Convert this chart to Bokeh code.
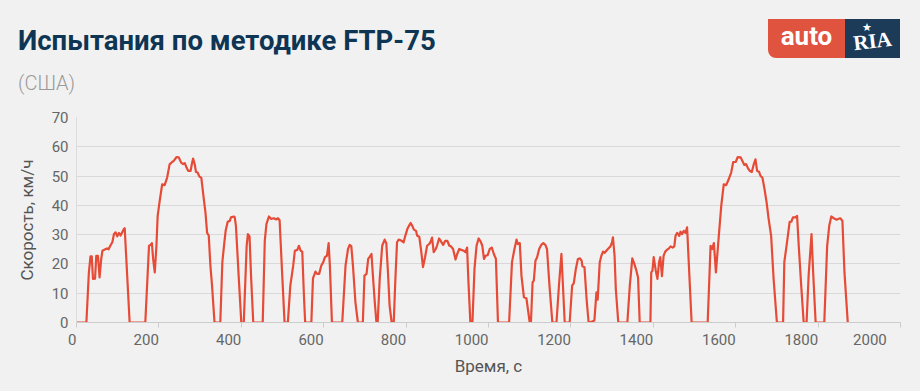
from bokeh.plotting import figure
from bokeh.layouts import column
from bokeh.models import Range1d, FixedTicker, Div
from bokeh.embed import file_html
from bokeh.resources import INLINE

# ---- data ----
phase1_t = [0, 24, 30, 34, 37, 40, 45, 48, 52, 56, 60, 63, 70, 74, 78, 82, 87, 91, 95, 99, 103, 107, 111, 115, 117,
            129, 167, 176, 180, 183, 186, 190, 194, 197, 202, 208, 214, 220, 226, 232, 236, 243, 248, 254, 259, 263,
            267, 271, 277, 280, 283, 287, 290, 294, 298, 303, 309, 313, 317, 321, 325, 329, 335, 349, 354, 358, 362,
            367, 372, 375, 382, 384, 387, 394, 400, 406, 413, 416, 420, 424, 429, 452, 457, 461, 467, 472, 479, 485,
            489, 493, 499, 505]
phase1_v = [0, 0, 17, 22.6, 22.6, 14.9, 15, 22.8, 22.8, 15.4, 21.7, 24.5, 25, 25.3, 25, 26.2, 27.4, 30.2, 30.8, 29.4,
            30.6, 29.7, 30.8, 31.9, 32.2, 0, 0, 26.2, 26.5, 27.1, 21.7, 17.1, 26.2, 36.4, 41.6, 47.2, 46.9, 49.5, 54,
            54.8, 55.2, 56.5, 56.4, 54.6, 54.1, 54.4, 52.9, 51.8, 51.8, 54.1, 56, 54, 51.4, 51.2, 49.9, 49.4, 42.1,
            37.6, 30.6, 29.7, 19.4, 12.6, 0, 0, 20.6, 26.2, 31.3, 34.4, 34.7, 35.9, 36.2, 36, 33, 14.9, 0, 0, 26.2,
            30.2, 29.4, 14.9, 0, 0, 27.9, 33.6, 36.2, 35.4, 35.6, 35.2, 35.6, 34.9, 17.1, 0]

phase2_t = [513, 519, 526, 530, 536, 540, 544, 548, 552, 555, 570, 574, 580, 584, 589, 594, 599, 603, 608, 612, 615,
            620, 645, 653, 659, 663, 667, 671, 677, 683, 695, 699, 704, 708, 712, 716, 720, 724, 728, 731, 736, 742,
            748, 752, 756, 760, 765, 770, 774, 778, 782, 788, 794, 798, 803, 807, 811, 815, 819, 824, 827, 832, 837,
            841, 846, 851, 856, 859, 863, 867, 872, 875, 880, 885, 890, 895, 900, 905, 909, 914, 920, 924, 929, 934,
            940, 944, 948, 951, 956, 961, 966, 971, 976, 981, 985, 989, 993, 998, 1003, 1008, 1013, 1018, 1023, 1050,
            1057, 1063, 1068, 1071, 1076, 1080, 1086, 1092, 1100, 1103, 1107, 1110, 1114, 1118, 1123, 1128, 1133,
            1138, 1142, 1148, 1155, 1165, 1171, 1177, 1185, 1197, 1203, 1207, 1212, 1217, 1222, 1226, 1228, 1233,
            1238, 1243, 1249, 1257, 1262, 1265, 1270, 1274, 1278, 1282, 1286, 1291, 1296, 1300, 1302, 1306, 1309,
            1315, 1337, 1343, 1349, 1354, 1359, 1363, 1367]
phase2_v = [0, 12.6, 19.4, 24.5, 24.8, 26.2, 24.5, 24.2, 9.2, 0, 0, 15.1, 17.4, 16.6, 16.6, 19.4, 20.6, 22.3, 22.8,
            27.1, 19.4, 0, 0, 19.4, 25.1, 26.5, 26.1, 19.4, 6.9, 0, 0, 16, 16.6, 21.7, 22.5, 23.4, 14.9, 6.9, 0, 0,
            14.9, 26.2, 28.3, 27, 17.1, 5.7, 0, 0, 14.9, 27.4, 28.3, 28, 27.4, 29.6, 31.9, 33, 34, 33, 31.7, 31.3,
            29.6, 29.3, 24, 18.9, 22.3, 26.2, 26.8, 27.4, 29, 24, 25.1, 26.2, 28.7, 27.6, 26.5, 27.9, 27.9, 26.2, 26,
            25.1, 21.5, 23.4, 25.1, 24.8, 24.5, 24, 25.6, 14.9, 0, 0, 18.3, 26.2, 28.7, 27.6, 26.2, 21.7, 22.8, 23,
            25.1, 25.6, 23.4, 21.7, 0, 0, 20.6, 25.1, 28.3, 26.8, 27.1, 16, 8.6, 8.3, 0, 0, 13.7, 14.3, 21.1, 22.3,
            25.1, 26.5, 27.1, 26.5, 25.1, 12.6, 0, 0, 12.6, 23.4, 0, 0, 12.6, 13.4, 18.3, 21.7, 21.9, 21.1, 19.2,
            18.9, 8.1, 0, 0.2, 0.7, 10.3, 7.8, 20.6, 22.8, 24.2, 23.8, 24.5, 25.3, 26, 27.4, 29.1, 22.8, 11.5, 0, 0,
            12.6, 21.9, 20, 17.7, 15.4, 0]

phase3_t = [1393, 1395, 1398, 1401, 1406, 1410, 1414, 1417, 1421, 1425, 1429, 1434, 1438, 1442, 1447, 1451, 1454,
            1458, 1463, 1466, 1470, 1474, 1478, 1482, 1493, 1532, 1539, 1543, 1547, 1552, 1559, 1565, 1571, 1577,
            1583, 1589, 1594, 1600, 1605, 1612, 1616, 1621, 1625, 1629, 1634, 1639, 1644, 1648, 1652, 1657, 1660,
            1665, 1670, 1675, 1680, 1686, 1692, 1700, 1715, 1718, 1725, 1731, 1735, 1739, 1745, 1749, 1753, 1759,
            1765, 1772, 1777, 1784, 1788, 1794, 1815, 1822, 1827, 1832, 1838, 1845, 1850, 1854, 1859, 1864, 1872]
phase3_v = [0, 17.1, 17.7, 22.3, 17.7, 14.9, 20.6, 22.3, 15.8, 22.8, 24.2, 24.9, 25.3, 26, 25.6, 26, 29.6, 30.6,
            29.6, 31, 30.2, 31.3, 30.6, 32.5, 0, 0, 26.2, 25.1, 27.1, 17.1, 29.6, 39.9, 47.2, 46.9, 48.9, 51.2, 54.8,
            54.8, 56.5, 56.4, 55.2, 53.8, 54.1, 52.9, 51.8, 51.4, 54.1, 55.7, 51.8, 51.4, 50.1, 49.4, 45.5, 41, 35.3,
            29.6, 14.9, 0, 0, 20.6, 27.9, 34.4, 34.4, 35.9, 35.9, 36.4, 26.2, 12.6, 0, 0, 16, 30.2, 17.1, 0, 0, 26.2,
            33, 36.2, 35.6, 35.1, 35.4, 35.6, 34.7, 17.1, 0]

x_ticks = [0, 200, 400, 600, 800, 1000, 1200, 1400, 1600, 1800, 2000]
y_ticks = [0, 10, 20, 30, 40, 50, 60, 70]

title_text = "Испытания по методике FTP-75"
subtitle_text = "(США)"
x_title = "Время, с"
y_title = "Скорость, км/ч"

time_s = phase1_t + phase2_t + phase3_t
speed = phase1_v + phase2_v + phase3_v

BG = "#f1f1f1"
FONT = "Roboto"
W = 920
HEAD_H = 108
MAIN_H = 283

# ---------------- header (title, subtitle, logo) ----------------
header_html = f"""
<div style="position:relative;width:{W}px;height:{HEAD_H}px;background:{BG};font-family:Roboto,sans-serif;overflow:hidden;">
  <div style="position:absolute;left:18px;top:27px;font-size:27.5px;line-height:27px;font-weight:700;color:#0e3654;white-space:nowrap;">{title_text}</div>
  <div style="position:absolute;left:18px;top:73px;font-size:20px;line-height:20px;font-weight:300;color:#9a9a9a;white-space:nowrap;">{subtitle_text}</div>
  <div style="position:absolute;left:768px;top:19px;width:77px;height:39px;background:#e0533f;border-bottom-left-radius:8px;"></div>
  <div style="position:absolute;left:845px;top:19px;width:55px;height:39px;background:#1b3b59;"></div>
  <div style="position:absolute;left:768px;top:23px;width:77px;text-align:center;font-size:26px;line-height:26px;font-weight:700;color:#ffffff;">auto</div>
  <div style="position:absolute;left:845px;top:31px;width:55px;text-align:center;font-family:'Liberation Serif',serif;font-size:21px;line-height:21px;font-weight:700;color:#ffffff;transform:rotate(-7deg);">RIA</div>
  <div style="position:absolute;left:861px;top:22px;width:12px;text-align:center;font-family:'DejaVu Sans';font-size:11px;line-height:11px;color:#ffffff;">&#9733;</div>
</div>
"""
head = Div(text=header_html, width=W, height=HEAD_H, margin=(0, 0, 0, 0),
           styles={"background-color": BG})

# ---------------- main chart ----------------
p = figure(width=W, height=MAIN_H, output_backend="svg", toolbar_location=None,
           x_range=Range1d(0, 2000), y_range=Range1d(0, 70),
           min_border_left=76, min_border_right=20, min_border_top=9, min_border_bottom=69)
p.background_fill_color = BG
p.border_fill_color = BG
p.outline_line_color = None

p.xgrid.visible = False
p.ygrid.grid_line_color = "#d9d9d9"
p.ygrid.grid_line_width = 1

p.xaxis.ticker = FixedTicker(ticks=x_ticks)
p.yaxis.ticker = FixedTicker(ticks=y_ticks)

xa = p.xaxis[0]
xa.axis_line_color = "#cccccc"
xa.major_tick_line_color = "#cccccc"
xa.major_tick_out = 5
xa.major_tick_in = 0
xa.minor_tick_line_color = None
xa.major_label_standoff = 3
xa.major_label_text_font = FONT
xa.major_label_text_font_size = "15px"
xa.major_label_text_color = "#666666"
# labels sit to the left of their ticks (right-aligned) in the reference
xa.major_label_overrides = {t: str(t) + "\u2007" * len(str(t)) for t in x_ticks}
xa.axis_label = x_title
xa.axis_label_text_font = FONT
xa.axis_label_text_font_size = "17px"
xa.axis_label_text_font_style = "normal"
xa.axis_label_text_color = "#555555"
xa.axis_label_standoff = 4

ya = p.yaxis[0]
ya.axis_line_color = "#dcdcdc"
ya.major_tick_line_color = None
ya.minor_tick_line_color = None
ya.major_tick_out = 0
ya.major_tick_in = 0
ya.major_label_standoff = 8
ya.major_label_text_font = FONT
ya.major_label_text_font_size = "15px"
ya.major_label_text_color = "#666666"
ya.axis_label = y_title
ya.axis_label_text_font = FONT
ya.axis_label_text_font_size = "17px"
ya.axis_label_text_font_style = "normal"
ya.axis_label_text_color = "#555555"
ya.axis_label_standoff = 12

p.line(time_s, speed, line_color="#e64b37", line_width=2.2, line_join="round")

layout = column(head, p, spacing=0, styles={"background-color": BG})
html = file_html(layout, INLINE)
html = html.replace("<body>", f'<body style="background-color:{BG};">', 1)
open("out.html", "w").write(html)
